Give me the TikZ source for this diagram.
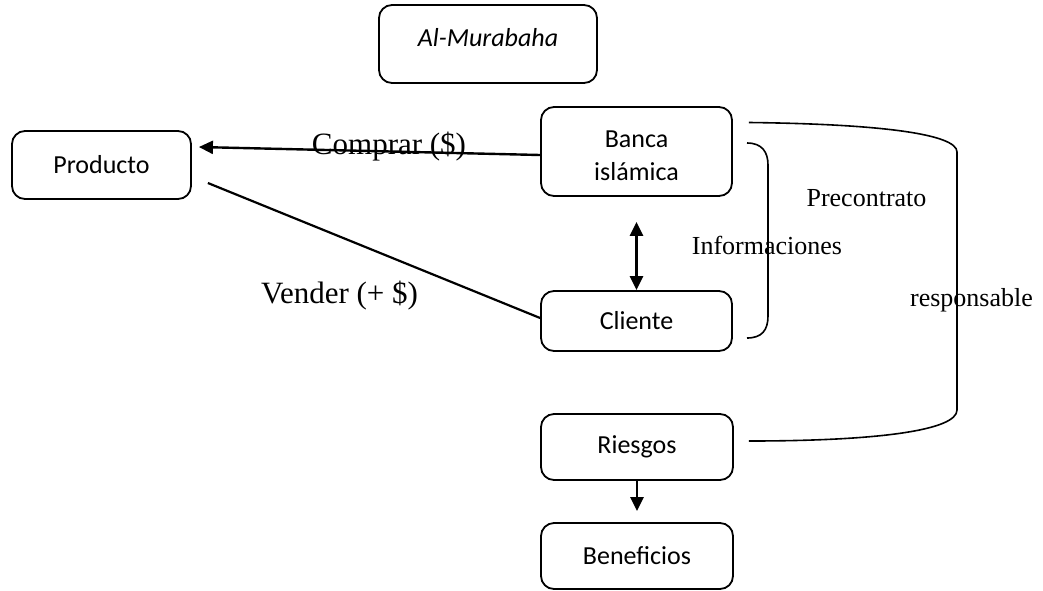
\documentclass[tikz,border=0pt]{standalone}
\usepackage{fontspec}
\setmainfont{Liberation Serif}
\newfontfamily\boxfont{Carlito}
\usetikzlibrary{arrows.meta,calc}
\begin{document}
\begin{tikzpicture}[x=1pt,y=-1pt,
  box/.style={draw,line width=1.8pt,rounded corners=13pt,inner sep=0pt,
    font=\boxfont\fontsize{26}{33}\selectfont,align=center},
  arr/.style={line width=2.4pt,-{Triangle[length=14pt,width=13pt]}},
  dblarr/.style={line width=2.4pt,{Triangle[length=14pt,width=13pt]}-{Triangle[length=14pt,width=13pt]}},
  link/.style={line width=2.2pt},
  brace/.style={line width=1.6pt},
  lbl/.style={inner sep=0pt,font=\fontsize{26}{30}\selectfont},
  biglbl/.style={inner sep=0pt,font=\fontsize{31}{36}\selectfont}]
\useasboundingbox (0,0) rectangle (1043,590);

% boxes
\node[box,minimum width=218pt,minimum height=78pt] (mur) at (488,44)
  {\raisebox{6pt}[\height][\depth]{\itshape Al-Murabaha}};
\node[box,minimum width=179pt,minimum height=68pt] (prod) at (101.5,165) {Producto};
\node[box,minimum width=191pt,minimum height=89pt] (banca) at (636.5,151.5)
  {\raisebox{-6pt}[\height][\depth]{\begin{tabular}{@{}c@{}}Banca\\isl\'amica\end{tabular}}};
\node[box,minimum width=191pt,minimum height=60pt] (cli) at (636.5,321) {Cliente};
\node[box,minimum width=192pt,minimum height=66pt] (ries) at (637,447) {Riesgos};
\node[box,minimum width=192pt,minimum height=66pt] (ben) at (637,556) {Beneficios};

% free ends of the connectors
\coordinate (buyA) at ($(banca.west)+(0,3.5)$);
\coordinate (buyB) at ($(prod.east)+(7,-18)$);
\coordinate (sellA) at ($(prod.east)+(16,18)$);
\coordinate (sellB) at ($(cli.west)+(0,-3)$);
\coordinate (infoA) at ($(banca.south)+(0,25)$);
\coordinate (benTip) at ($(ben.north)+(0,-11)$);

% connectors
\draw[arr] (buyA) -- (buyB);
\draw[link] (sellA) -- (sellB);
\draw[dblarr] (infoA) -- (cli.north);
\draw[arr] (ries.south) -- (benTip);

% small bracket: Banca islámica / Cliente
\coordinate (sbTop) at (747,143);
\coordinate (sbBot) at (747,338);
\draw[brace] (sbTop) .. controls (762,143) and (768,152) .. (768,165)
  -- (768,316) .. controls (768,330) and (762,338) .. (sbBot);

% large bracket: Banca islámica / Riesgos
\coordinate (bbTop) at ($(banca.east)+(16,-29)$);
\coordinate (bbBot) at ($(ries.east)+(15,-6)$);
\draw[brace] (bbTop) .. controls (880,124) and (957,134) .. (957,152)
  -- (957,410) .. controls (957,430) and (880,441) .. (bbBot);

% labels
\node[biglbl] (comprar) at (389,147) {Comprar (\$)};
\node[biglbl] (vender) at (339.5,296) {Vender (+ \$)};
\node[lbl] (precon) at (866.5,198) {Precontrato};
\node[lbl] (info) at (767,245) {Informaciones};
\node[lbl] (resp) at (971.5,300) {responsable};
\end{tikzpicture}
\end{document}
